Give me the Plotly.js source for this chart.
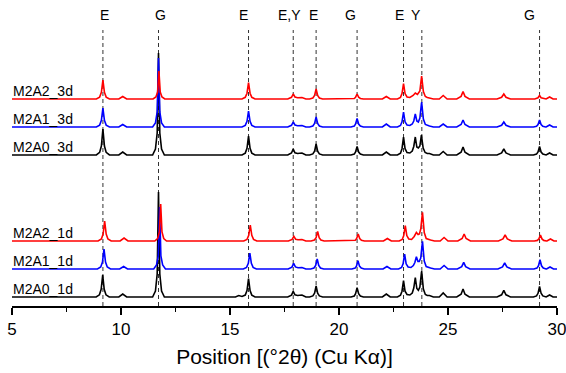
<!DOCTYPE html>
<html>
<head>
<meta charset="utf-8">
<script src="https://cdn.plot.ly/plotly-3.0.1.min.js"></script>
<style>html,body{margin:0;padding:0;background:#fff;}#chart{width:566px;height:373px;}</style>
</head>
<body>
<div id="chart"></div>
<script>
// Series: [2theta, intensity above own baseline]
const M2A0_3d = [[5,0],[8.87,0],[9.02,2.6],[9.10,9],[9.17,26],[9.24,9],[9.32,2.6],[9.47,0],[9.9,0],[10.08,3],[10.26,0],[11.45,0],[11.58,6],[11.66,22],[11.72,102],[11.78,22],[11.86,6],[11.99,0],[15.55,0],[15.7,1.9],[15.78,6.6],[15.85,19],[15.92,6.6],[16.0,1.9],[16.15,0],[17.65,0],[17.82,2],[17.9,6],[17.98,2.2],[18.1,1.5],[18.3,2],[18.48,0],[18.65,0],[18.8,1.1],[18.88,3.8],[18.95,11],[19.02,3.8],[19.1,1.1],[19.25,0],[20.55,0],[20.7,0.9],[20.76,3],[20.83,8.5],[20.9,3],[20.98,0.9],[21.12,0],[21.99,0],[22.17,3],[22.35,0],[22.68,0],[22.82,1.8],[22.89,6.3],[22.96,18],[23.03,6.3],[23.12,2.5],[23.25,2],[23.36,4],[23.43,8.5],[23.5,18],[23.57,8],[23.64,7],[23.71,9],[23.78,20],[23.86,7],[23.95,2.5],[24.05,1.5],[24.15,1.5],[24.33,0],[24.6,0],[24.78,3.5],[24.96,0],[25.4,0],[25.6,2.8],[25.69,8],[25.78,2.8],[25.98,0],[27.25,0],[27.46,2],[27.56,6],[27.66,2],[27.87,0],[28.92,0],[29.06,0.9],[29.13,3],[29.2,8.5],[29.27,3],[29.35,0.9],[29.48,0],[29.5,0],[29.66,2],[29.82,0],[30,0]];
const M2A1_3d = [[5,0],[8.87,0],[9.02,1.9],[9.10,6.6],[9.17,19],[9.24,6.6],[9.32,1.9],[9.47,0],[9.9,0],[10.08,2.5],[10.26,0],[11.45,0],[11.58,4],[11.66,15],[11.72,69],[11.78,15],[11.86,4],[11.99,0],[15.55,0],[15.7,1.6],[15.78,5.6],[15.85,16],[15.92,5.6],[16.0,1.6],[16.15,0],[17.65,0],[17.82,1.7],[17.9,5],[17.98,2],[18.1,1.3],[18.3,1.5],[18.48,0],[18.65,0],[18.8,1],[18.88,3.5],[18.95,10],[19.02,3.5],[19.1,1],[19.25,0],[20.55,0],[20.7,0.9],[20.76,3],[20.83,8.5],[20.9,3],[20.98,0.9],[21.12,0],[21.99,0],[22.17,3],[22.35,0],[22.68,0],[22.82,1.5],[22.89,5.2],[22.96,15],[23.03,5.2],[23.12,2],[23.25,1.5],[23.36,3],[23.43,6],[23.5,13],[23.57,6],[23.64,5],[23.71,9],[23.79,25],[23.87,8],[23.96,2.5],[24.05,1.5],[24.15,1],[24.33,0],[24.6,0],[24.78,3],[24.96,0],[25.4,0],[25.6,2.5],[25.69,7],[25.78,2.5],[25.98,0],[27.25,0],[27.46,1.7],[27.56,5],[27.66,1.7],[27.87,0],[28.92,0],[29.06,0.7],[29.13,2.5],[29.2,7],[29.27,2.5],[29.35,0.7],[29.48,0],[29.5,0],[29.66,2],[29.82,0],[30,0]];
const M2A2_3d = [[5,0],[8.87,0],[9.02,1.9],[9.10,6.6],[9.17,19],[9.24,6.6],[9.32,1.9],[9.47,0],[9.9,0],[10.08,2.5],[10.26,0],[11.47,0],[11.6,2],[11.68,7],[11.74,28],[11.8,7],[11.88,2],[12.01,0],[15.55,0],[15.7,1.7],[15.78,5.8],[15.85,16.5],[15.92,5.8],[16.0,1.7],[16.15,0],[17.65,0],[17.82,1.7],[17.9,5],[17.98,2],[18.1,1.3],[18.3,1.5],[18.48,0],[18.65,0],[18.8,1],[18.88,3.5],[18.95,10],[19.02,3.5],[19.1,1],[19.25,0],[20.55,0],[20.7,0.5],[20.76,1.8],[20.83,5],[20.9,1.8],[20.98,0.5],[21.12,0],[21.99,0],[22.17,2.5],[22.35,0],[22.68,0],[22.82,1.6],[22.89,5.4],[22.96,15.5],[23.03,5.4],[23.12,2],[23.25,1.5],[23.4,3.5],[23.5,6],[23.6,4.5],[23.71,8],[23.79,23],[23.87,7.5],[23.96,2.5],[24.05,1.5],[24.15,1],[24.33,0],[24.6,0],[24.78,3.5],[24.96,0],[25.4,0],[25.6,2.6],[25.69,7.5],[25.78,2.6],[25.98,0],[27.25,0],[27.46,1.7],[27.56,5],[27.66,1.7],[27.87,0],[28.98,0],[29.13,1.2],[29.2,3.5],[29.27,1.2],[29.42,0],[29.5,0],[29.66,2],[29.82,0],[30,0]];
const M2A0_1d = [[5,0],[8.86,0],[9.01,2.2],[9.09,7.7],[9.16,22],[9.23,7.7],[9.31,2.2],[9.46,0],[9.9,0],[10.08,3],[10.26,0],[11.45,0],[11.58,6],[11.66,23],[11.72,105],[11.78,23],[11.86,6],[11.99,0],[15.25,0],[15.4,1.5],[15.55,0.6],[15.7,1.9],[15.78,6.5],[15.85,18.5],[15.92,6.5],[16.0,1.9],[16.15,0],[17.65,0],[17.82,1.9],[17.9,5.7],[17.98,2.1],[18.1,1.5],[18.3,2],[18.48,0],[18.65,0],[18.8,1.1],[18.88,3.8],[18.95,11],[19.02,3.8],[19.1,1.1],[19.25,0],[20.55,0],[20.7,1],[20.76,3.3],[20.83,9.4],[20.9,3.3],[20.98,1],[21.12,0],[21.99,0],[22.17,3],[22.35,0],[22.68,0],[22.82,1.7],[22.89,5.8],[22.96,16.5],[23.03,5.8],[23.12,2.5],[23.25,2],[23.36,4],[23.43,9],[23.5,19.5],[23.57,8.5],[23.64,6.7],[23.71,10],[23.79,26],[23.87,8],[23.96,2.5],[24.05,1.5],[24.15,1.5],[24.33,0],[24.6,0],[24.78,4],[24.96,0],[25.4,0],[25.6,2.8],[25.69,8],[25.78,2.8],[25.98,0],[27.25,0],[27.46,2.2],[27.56,6.7],[27.66,2.2],[27.87,0],[28.92,0],[29.06,1.1],[29.13,3.7],[29.2,10.7],[29.27,3.7],[29.35,1.1],[29.48,0],[29.5,0],[29.66,2],[29.82,0],[30,0]];
const M2A1_1d = [[5,0],[8.92,0],[9.07,2],[9.15,7],[9.22,20],[9.29,7],[9.37,2],[9.52,0],[9.94,0],[10.12,2.5],[10.3,0],[11.5,0],[11.63,4],[11.71,13],[11.77,62],[11.83,13],[11.91,4],[12.04,0],[15.61,0],[15.76,1.6],[15.84,5.6],[15.91,16],[15.98,5.6],[16.06,1.6],[16.21,0],[17.67,0],[17.84,1.9],[17.92,5.6],[18.0,2.1],[18.12,1.3],[18.3,1.5],[18.48,0],[18.7,0],[18.85,1],[18.93,3.5],[19.0,10],[19.07,3.5],[19.15,1],[19.3,0],[20.59,0],[20.74,0.9],[20.8,2.9],[20.87,8.3],[20.94,2.9],[21.02,0.9],[21.16,0],[22.02,0],[22.2,2.5],[22.38,0],[22.73,0],[22.87,1.5],[22.94,5.2],[23.01,15],[23.08,5.2],[23.17,2],[23.3,1.5],[23.41,3.5],[23.48,6.5],[23.55,12.3],[23.62,7.6],[23.68,7.6],[23.75,11],[23.83,27.6],[23.91,8],[24.0,2.5],[24.1,1.5],[24.2,1],[24.38,0],[24.64,0],[24.82,3.5],[25.0,0],[25.43,0],[25.63,2.3],[25.72,6.6],[25.81,2.3],[26.01,0],[27.29,0],[27.5,2],[27.6,6],[27.7,2],[27.91,0],[28.94,0],[29.08,0.9],[29.15,3.2],[29.22,9.3],[29.29,3.2],[29.37,0.9],[29.5,0],[29.52,0],[29.68,2],[29.84,0],[30,0]];
const M2A2_1d = [[5,0],[8.95,0],[9.1,2],[9.18,7],[9.25,20],[9.32,7],[9.4,2],[9.55,0],[9.96,0],[10.14,3],[10.32,0],[11.55,0],[11.68,2.5],[11.76,9],[11.82,37],[11.88,9],[11.96,2.5],[12.09,0],[15.63,0],[15.78,1.6],[15.86,5.6],[15.93,16],[16.0,5.6],[16.08,1.6],[16.23,0],[17.68,0],[17.85,1.6],[17.93,4.6],[18.01,1.8],[18.12,1.3],[18.3,1.5],[18.48,0],[18.72,0],[18.87,1],[18.95,3.4],[19.02,9.6],[19.09,3.4],[19.17,1],[19.32,0],[20.6,0],[20.75,0.7],[20.81,2.5],[20.88,7],[20.95,2.5],[21.03,0.7],[21.17,0],[22.04,0],[22.22,2.5],[22.4,0],[22.76,0],[22.9,1.5],[22.97,5.4],[23.04,15.3],[23.11,5.4],[23.2,2],[23.33,1.5],[23.45,4.5],[23.55,8.6],[23.63,6.5],[23.69,7],[23.75,12],[23.83,28.6],[23.91,8.5],[24.0,2.5],[24.1,1.5],[24.2,1],[24.38,0],[24.64,0],[24.82,3.5],[25.0,0],[25.45,0],[25.65,2.5],[25.74,7],[25.83,2.5],[26.03,0],[27.31,0],[27.52,2],[27.62,6],[27.72,2],[27.93,0],[28.96,0],[29.1,0.6],[29.17,2.1],[29.24,6],[29.31,2.1],[29.39,0.6],[29.52,0],[29.54,0],[29.7,2],[29.86,0],[30,0]];

const seriesNames = ['M2A0_1d','M2A1_1d','M2A2_1d','M2A0_3d','M2A1_3d','M2A2_3d'];
const seriesData = [M2A0_1d, M2A1_1d, M2A2_1d, M2A0_3d, M2A1_3d, M2A2_3d];
const seriesOffsets = [9, 37, 65, 151, 179, 207];
const seriesColors = ['#000000','#0000ff','#ff0000','#000000','#0000ff','#ff0000'];

// Reference phase lines
const refPositions = [9.17, 11.72, 15.85, 17.9, 18.95, 20.83, 22.96, 23.8, 29.2];
const refLabels = ['E','G','E','E,Y','E','G','E','Y','G'];
const refLabelX = [9.22, 11.82, 15.64, 17.74, 18.82, 20.52, 22.77, 23.52, 28.73];

const xTicks = [5, 10, 15, 20, 25, 30];
const xTickText = ['5','10','15','20','25','30'];

const FONT = 'Liberation Sans, Arial, sans-serif';

const traces = seriesData.map((d, i) => ({
  type: 'scatter', mode: 'lines',
  x: d.map(p => p[0]),
  y: d.map(p => p[1] + seriesOffsets[i]),
  line: {color: seriesColors[i], width: 1.6},
  hoverinfo: 'skip', showlegend: false
}));

const shapes = refPositions.map(x => ({
  type: 'line', xref: 'x', yref: 'y', x0: x, x1: x, y0: 0, y1: 276,
  line: {color: '#333333', width: 1, dash: '4px,3px'}, layer: 'below'
}));

const annotations = refLabels.map((t, i) => ({
  x: refLabelX[i], y: 291, xref: 'x', yref: 'y', text: t, showarrow: false,
  xanchor: 'center', yanchor: 'middle',
  font: {family: FONT, size: 14, color: '#000'}
})).concat(seriesNames.map((n, i) => ({
  x: 5, y: seriesOffsets[i] + 8, xref: 'x', yref: 'y', text: n, showarrow: false,
  xanchor: 'left', yanchor: 'middle', xshift: -1,
  font: {family: FONT, size: 14, color: '#000'}
})));

const layout = {
  width: 566, height: 373,
  margin: {l: 12, r: 9, t: 0, b: 67},
  paper_bgcolor: '#ffffff', plot_bgcolor: 'rgba(0,0,0,0)',
  font: {family: FONT, color: '#000'},
  xaxis: {
    range: [5, 30], tickmode: 'array', tickvals: xTicks, ticktext: xTickText,
    ticks: 'outside', ticklen: 7, tickwidth: 1.5, tickcolor: '#000',
    ticklabeloverflow: 'allow',
    showline: true, linewidth: 1.5, linecolor: '#000',
    showgrid: false, zeroline: false,
    tickfont: {size: 17, family: FONT, color: '#000'},
    minor: {ticks: 'outside', tickmode: 'linear', tick0: 7.5, dtick: 5, ticklen: 4, tickwidth: 1.5, tickcolor: '#000', showgrid: false},
    title: {text: 'Position [(°2θ) (Cu Kα)]', standoff: 11,
      font: {size: 21, family: FONT, color: '#000'}}
  },
  yaxis: {range: [0, 306], visible: false, fixedrange: true},
  shapes: shapes,
  annotations: annotations
};

Plotly.newPlot('chart', traces, layout, {displayModeBar: false, staticPlot: true});
</script>
</body>
</html>
